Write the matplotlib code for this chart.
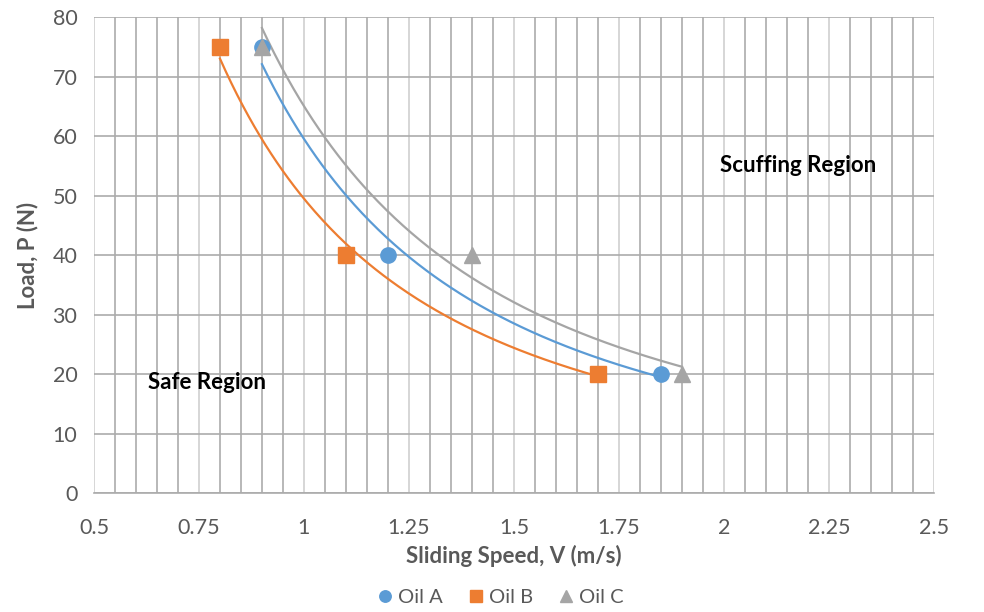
import numpy as np
import matplotlib
matplotlib.use('Agg')
import matplotlib.pyplot as plt

plt.rcParams['font.family'] = ['Lato', 'DejaVu Sans']

# data
speed_a = [0.9, 1.2, 1.85]
load_a = [75, 40, 20]
speed_b = [0.8, 1.1, 1.7]
load_b = [75, 40, 20]
speed_c = [0.9, 1.4, 1.9]
load_c = [75, 40, 20]

names = ['Oil A', 'Oil B', 'Oil C']
colours = ['#5B9BD5', '#ED7D31', '#A5A5A5']
markers = ['o', 's', '^']
msizes = [11, 11, 11]

fig = plt.figure(figsize=(9.84, 6.12), dpi=100)
ax = fig.add_axes([0.0955, 0.1944, 0.8535, 0.7778])

# power trendline, like Excel does it
def power_fit(x, y):
    b, a = np.polyfit(np.log(x), np.log(y), 1)
    xs = np.linspace(min(x), max(x), 200)
    return xs, np.exp(a) * xs**b

series = [(speed_a, load_a), (speed_b, load_b), (speed_c, load_c)]
for (x, y), nm, col, mk, ms in zip(series, names, colours, markers, msizes):
    xs, ys = power_fit(x, y)
    ax.plot(xs, ys, color=col, lw=1.6, zorder=3)
    ax.plot(x, y, linestyle='none', marker=mk, color=col, ms=ms,
            label=nm, zorder=4, clip_on=False)

ax.set_xlim(0.5, 2.5)
ax.set_ylim(0, 80)
ax.set_xticks(np.arange(0.5, 2.51, 0.25))
ax.set_xticklabels(['0.5', '0.75', '1', '1.25', '1.5', '1.75', '2', '2.25', '2.5'])
ax.set_xticks(np.arange(0.5, 2.51, 0.05), minor=True)
ax.set_yticks(np.arange(0, 81, 10))
ax.grid(True, which='major', axis='x', color='#D0D0D0', lw=1.2, zorder=0)
ax.grid(True, which='major', axis='y', color='#ABABAB', lw=1.2, zorder=0)
ax.grid(True, which='minor', axis='x', color='#ABABAB', lw=1.2, zorder=0)
ax.tick_params(which='both', length=0, labelsize=15.5, colors='#595959')
ax.tick_params(axis='x', pad=18)
ax.tick_params(axis='y', pad=12)
for s in ['top', 'right', 'left']:
    ax.spines[s].set_visible(False)
ax.spines['bottom'].set_color('#ABABAB')
ax.spines['bottom'].set_linewidth(1.2)
ax.set_axisbelow(True)

ax.set_xlabel('Sliding Speed, V (m/s)', fontsize=16, fontweight='bold',
              color='#595959', labelpad=5)
ax.set_ylabel('Load, P (N)', fontsize=16, fontweight='bold',
              color='#595959', labelpad=10)

ax.text(2.176, 55.1, 'Scuffing Region', fontsize=16, fontweight='bold',
        ha='center', va='center')
ax.text(0.769, 18.5, 'Safe Region', fontsize=16, fontweight='bold',
        ha='center', va='center')

handles, labels = ax.get_legend_handles_labels()
fig.legend(handles, labels, loc='center', bbox_to_anchor=(0.505, 0.023),
           ncol=3, frameon=False, fontsize=14.5, handletextpad=-0.1,
           handlelength=1.5, columnspacing=0.9, markerscale=0.75,
           labelcolor='#595959')

fig.savefig('out.png', dpi=100)
